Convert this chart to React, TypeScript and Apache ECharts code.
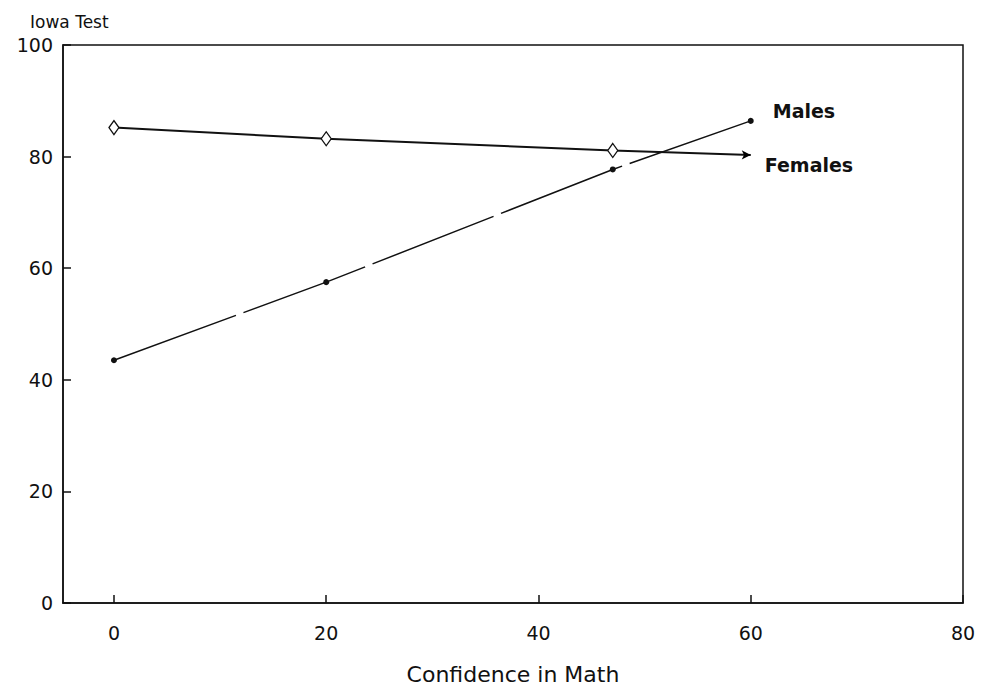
import React, { useEffect, useRef } from "react";
import * as echarts from "echarts";

const confidenceFemales = [0, 20, 47, 60];
const iowaFemales = [85.2, 83.2, 81.1, 80.3];
const confidenceMales = [0, 20, 47, 60];
const iowaMales = [43.5, 57.5, 77.7, 86.4];
const xTicks = [0, 20, 40, 60, 80];
const seriesNames = ["Females", "Males"];

const FONT = "'DejaVu Sans', sans-serif";

export default function App() {
  const ref = useRef<HTMLDivElement>(null);
  useEffect(() => {
    if (!ref.current) return;
    const chart = echarts.init(ref.current, null, { renderer: "svg" });
    const femaleData = confidenceFemales.map((x, i) => {
      const last = i === confidenceFemales.length - 1;
      return last
        ? { value: [x, iowaFemales[i]], symbol: "arrow", symbolSize: [7, 9], symbolRotate: -90, itemStyle: { color: "#000", borderWidth: 0 } }
        : { value: [x, iowaFemales[i]] };
    });
    const maleData = confidenceMales.map((x, i) => [x, iowaMales[i]]);
    chart.setOption({
      animation: false,
      backgroundColor: "#fff",
      grid: {
        left: 63,
        right: 19,
        top: 45,
        bottom: 89,
        show: true,
        borderColor: "#111",
        borderWidth: 1.5,
        backgroundColor: "transparent",
      },
      xAxis: {
        type: "value",
        min: -4.8,
        max: 80,
        name: "Confidence in Math",
        nameLocation: "middle",
        nameGap: 60,
        nameTextStyle: { fontFamily: FONT, fontSize: 22, color: "#111" },
        axisLine: { show: true, onZero: false, lineStyle: { color: "#111", width: 1.5 } },
        axisTick: { show: true, inside: true, length: 8, customValues: xTicks, lineStyle: { color: "#111", width: 1.5 } },
        axisLabel: { customValues: xTicks, fontFamily: FONT, fontSize: 19, color: "#111", margin: 20 },
        splitLine: { show: false },
      },
      yAxis: {
        type: "value",
        min: 0,
        max: 100,
        interval: 20,
        axisLine: { show: true, onZero: false, lineStyle: { color: "#111", width: 1.5 } },
        axisTick: { show: true, inside: true, length: 8, lineStyle: { color: "#111", width: 1.5 } },
        axisLabel: { fontFamily: FONT, fontSize: 19, color: "#111", margin: 10 },
        splitLine: { show: false },
      },
      graphic: [
        {
          type: "text",
          left: 30,
          top: 13,
          style: { text: "Iowa Test", font: `17px ${FONT}`, fill: "#111" },
        },
      ],
      series: [
        {
          name: seriesNames[0],
          type: "line",
          data: femaleData,
          symbol: "diamond",
          symbolSize: [10, 14],
          showAllSymbol: true,
          itemStyle: { color: "#fff", borderColor: "#111", borderWidth: 1.3 },
          lineStyle: { color: "#111", width: 2 },
          endLabel: {
            show: true,
            formatter: seriesNames[0],
            fontFamily: FONT,
            fontSize: 19,
            fontWeight: "bold",
            color: "#111",
            offset: [6, 10],
          },
        },
        {
          name: seriesNames[1],
          type: "line",
          data: maleData,
          symbol: "circle",
          symbolSize: 6,
          itemStyle: { color: "#111" },
          lineStyle: { color: "#111", width: 1.5, type: [130, 8] },
          endLabel: {
            show: true,
            formatter: seriesNames[1],
            fontFamily: FONT,
            fontSize: 19,
            fontWeight: "bold",
            color: "#111",
            offset: [14, -10],
          },
        },
      ],
    });
    return () => chart.dispose();
  }, []);
  return (
    <div
      ref={ref}
      style={{ position: "fixed", left: 0, top: 0, width: 982, height: 692, background: "#fff" }}
    />
  );
}
